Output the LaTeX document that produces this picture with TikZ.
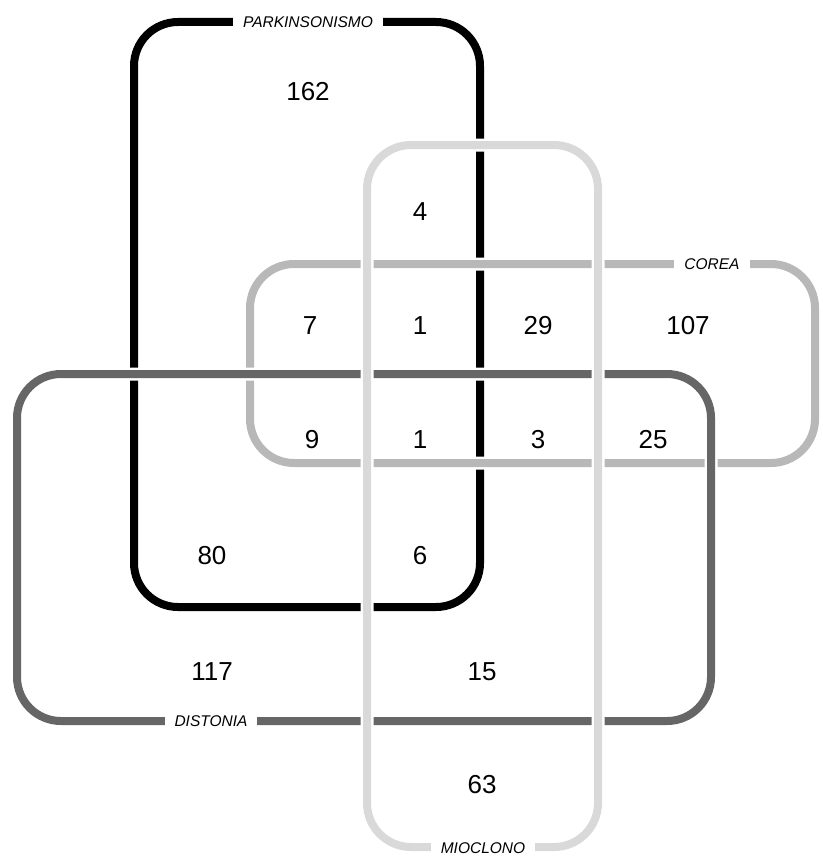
\documentclass[tikz,border=0pt]{standalone}
\usepackage{fontspec}
\setmainfont{Liberation Sans}
\usetikzlibrary{positioning}
\definecolor{mioclonogray}{RGB}{217,217,217}
\definecolor{coreagray}{RGB}{184,184,184}
\definecolor{distoniagray}{RGB}{102,102,102}

\begin{document}
\begin{tikzpicture}[x=1pt, y=-1pt,
  setbox/.style={line width=8pt, rounded corners=44pt},
  halo/.style={white, line width=13pt, rounded corners=44pt},
  num/.style={font=\fontsize{26}{30}\selectfont},
  setlabel/.style={fill=white, inner xsep=10pt, inner ysep=2pt, font=\fontsize{15.5}{17}\selectfont\itshape}]
  \useasboundingbox (0,0) rectangle (822,856);

  % sets, back to front
  \draw[setbox, black] (134,22) rectangle (480,607);
  \draw[halo] (250,264) rectangle (815,463);
  \draw[setbox, coreagray] (250,264) rectangle (815,463);
  \draw[halo] (17,374) rectangle (711,721);
  \draw[setbox, distoniagray] (17,374) rectangle (711,721);
  \draw[halo] (367,145) rectangle (598,847);
  \draw[setbox, mioclonogray] (367,145) rectangle (598,847);

  % set names
  \node[setlabel] (parkinsonismo) at (308,22) {PARKINSONISMO};
  \node[setlabel] (corea) at (712,264) {COREA};
  \node[setlabel] (distonia) at (211,721) {DISTONIA};
  \node[setlabel] (mioclono) at (483,848) {MIOCLONO};

  % counts
  \foreach \px/\py/\val/\nm in {308/92/162/p, 420/212/4/pm, 310/326/7/pc, 420/326/1/pcm,
      538/326/29/cm, 688/326/107/c, 312/440/9/pcd, 420/440/1/pcdm, 538/440/3/cdm,
      653/440/25/cd, 212/556/80/pd, 420/556/6/pdm, 212/672/117/d, 482/672/15/dm, 482/785/63/m}
    \node[num] (n\nm) at (\px,\py) {\val};
\end{tikzpicture}
\end{document}
